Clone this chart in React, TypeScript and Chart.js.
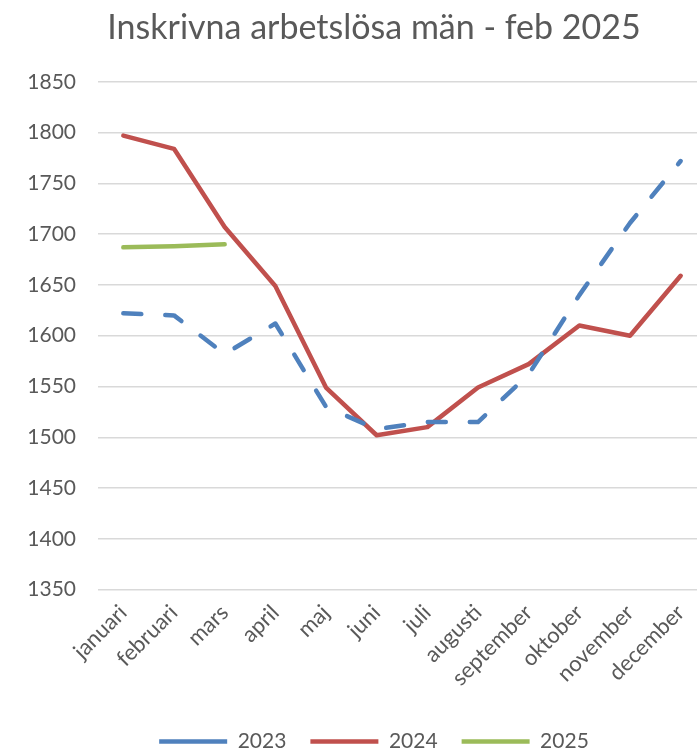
import React, { useEffect, useRef } from "react";
import { Chart, registerables } from "chart.js";

Chart.register(...registerables);

const months = [
  "januari", "februari", "mars", "april", "maj", "juni",
  "juli", "augusti", "september", "oktober", "november", "december",
];
const values2023 = [1622, 1620, 1582, 1612, 1530, 1508, 1515, 1515, 1562, 1640, 1711, 1772];
const values2024 = [1797, 1784, 1707, 1649, 1549, 1502, 1510, 1549, 1572, 1610, 1600, 1659];
const values2025 = [1687, 1688, 1690];
const seriesNames = ["2023", "2024", "2025"];
const titleText = "Inskrivna arbetslösa män - feb 2025";

const FONT = "Lato, 'Open Sans', sans-serif";
const TEXT = "#595959";

export default function App() {
  const ref = useRef<HTMLCanvasElement | null>(null);

  useEffect(() => {
    if (!ref.current) return;
    const chart = new Chart(ref.current, {
      type: "line",
      data: {
        labels: months,
        datasets: [
          {
            label: seriesNames[0],
            data: values2023,
            borderColor: "#4F81BD",
            backgroundColor: "#4F81BD",
            borderWidth: 4.5,
            borderDash: [18, 24],
            borderCapStyle: "round",
            borderJoinStyle: "round",
            pointRadius: 0,
            tension: 0,
          },
          {
            label: seriesNames[1],
            data: values2024,
            borderColor: "#C0504D",
            backgroundColor: "#C0504D",
            borderWidth: 4.5,
            borderCapStyle: "round",
            borderJoinStyle: "round",
            pointRadius: 0,
            tension: 0,
          },
          {
            label: seriesNames[2],
            data: values2025,
            borderColor: "#9BBB59",
            backgroundColor: "#9BBB59",
            borderWidth: 4.5,
            borderCapStyle: "round",
            borderJoinStyle: "round",
            pointRadius: 0,
            tension: 0,
          },
        ],
      },
      options: {
        responsive: false,
        animation: false,
        layout: { padding: { left: 0, right: 0, top: 0, bottom: 0 } },
        plugins: {
          title: {
            display: true,
            text: titleText,
            color: TEXT,
            font: { family: FONT, size: 34, weight: "normal" },
            padding: { top: 8, bottom: 33 },
          },
          legend: {
            position: "bottom",
            labels: {
              usePointStyle: true,
              pointStyle: "line",
              pointStyleWidth: 68,
              color: TEXT,
              font: { family: FONT, size: 21 },
              padding: 24,
            },
          },
          tooltip: { enabled: false },
        },
        scales: {
          x: {
            offset: true,
            grid: { display: false, drawTicks: false },
            border: { display: false },
            ticks: {
              maxRotation: 45,
              minRotation: 45,
              color: TEXT,
              font: { family: FONT, size: 22 },
              padding: 10,
            },
            afterFit: (s: any) => {
              s.height = s.height + 6;
            },
          },
          y: {
            min: 1350,
            max: 1850,
            grid: { color: "#D9D9D9", lineWidth: 1.5, drawTicks: false },
            border: { display: false },
            ticks: {
              stepSize: 50,
              color: TEXT,
              font: { family: FONT, size: 21 },
              padding: 22,
              callback: (v: any) => String(v),
            },
            afterFit: (s: any) => {
              s.width = 98;
            },
          },
          y2: {
            type: "linear",
            position: "right",
            display: true,
            grid: { display: false, drawTicks: false },
            border: { display: false },
            ticks: { display: false },
            afterFit: (s: any) => {
              s.width = 42;
            },
          },
        },
      },
    });
    return () => chart.destroy();
  }, []);

  return (
    <div
      style={{
        position: "fixed",
        left: 0,
        top: 0,
        width: 697,
        height: 749,
        overflow: "hidden",
        background: "#fff",
      }}
    >
      <canvas ref={ref} width={748} height={762} style={{ display: "block" }} />
    </div>
  );
}
